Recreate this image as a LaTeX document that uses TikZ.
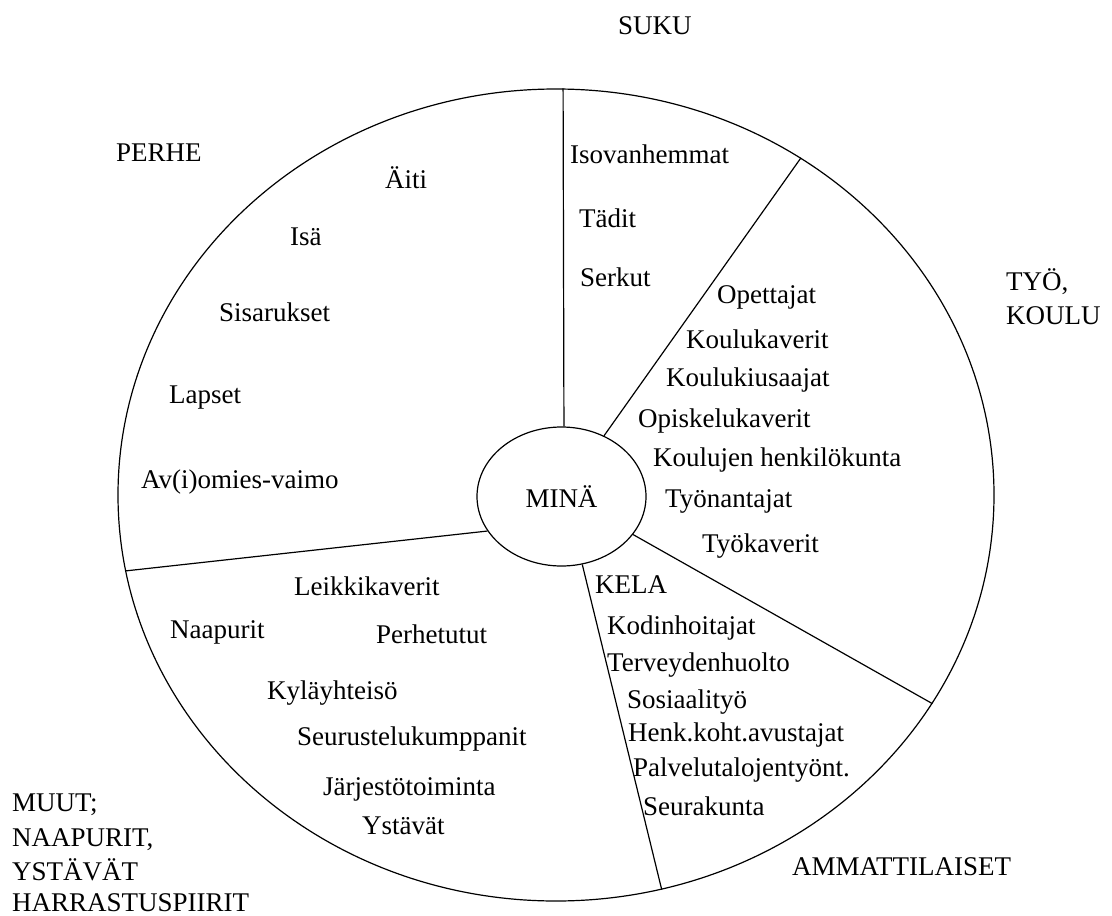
\documentclass[tikz,border=0pt]{standalone}
\usepackage{fontspec}
\setmainfont{Liberation Serif}
\usetikzlibrary{shapes.geometric}
\tikzset{
  lbl/.style={anchor=base west, inner sep=0pt, font=\fontsize{27}{31}\selectfont},
  ring/.style={draw, ellipse, line width=1.2pt, inner sep=0pt},
  divider/.style={draw, line width=1.2pt}
}
\begin{document}
\begin{tikzpicture}[x=1pt,y=-1pt]
\useasboundingbox (0,0) rectangle (1112,916);
\node[ring, minimum width=876pt, minimum height=812pt] (outer) at (556,495) {};
\node[ring, minimum width=169pt, minimum height=139pt, font=\fontsize{27}{31}\selectfont] (mina) at (561.5,496.5) {MINÄ};
% dividers
\path[divider] (mina.88.8) -- (outer.89);
\path[divider] (mina.55.1) -- (outer.54.4);
\path[divider] (mina.-28.9) -- (outer.-29.6);
\path[divider] (mina.-73.8) -- (outer.-75.2);
\path[divider] (mina.205.8) -- (outer.190.1);
% sector titles
\node[lbl] (suku) at (618,34) {SUKU};
\node[lbl] (perhe) at (116,161) {PERHE};
\node[lbl] (tyo) at (1006,290) {TYÖ,};
\node[lbl] (koulu) at (1006,324) {KOULU};
\node[lbl] (ammat) at (792,875) {AMMATTILAISET};
\node[lbl] (muut1) at (12,811) {MUUT;};
\node[lbl] (muut2) at (12,846) {NAAPURIT,};
\node[lbl] (muut3) at (12,880) {YSTÄVÄT};
\node[lbl] (muut4) at (12,911) {HARRASTUSPIIRIT};
% perhe
\node[lbl] (aiti) at (385,188) {Äiti};
\node[lbl] (isa) at (290,245) {Isä};
\node[lbl] (sisar) at (219,321) {Sisarukset};
\node[lbl] (lapset) at (169,403) {Lapset};
\node[lbl] (avio) at (141,488) {Av(i)omies-vaimo};
% suku
\node[lbl] (iso) at (570,163) {Isovanhemmat};
\node[lbl] (tadit) at (579,227) {Tädit};
\node[lbl] (serkut) at (580,286) {Serkut};
% tyo, koulu
\node[lbl] (opet) at (717,303) {Opettajat};
\node[lbl] (kkav) at (686,348) {Koulukaverit};
\node[lbl] (kkius) at (666,386) {Koulukiusaajat};
\node[lbl] (opis) at (638,427) {Opiskelukaverit};
\node[lbl] (khenk) at (653,466) {Koulujen henkilökunta};
\node[lbl] (tyon) at (665,507) {Työnantajat};
\node[lbl] (tyok) at (702,552) {Työkaverit};
% muut
\node[lbl] (leikki) at (294,595) {Leikkikaverit};
\node[lbl] (naap) at (170,638) {Naapurit};
\node[lbl] (perhet) at (376,643) {Perhetutut};
\node[lbl] (kyla) at (267,699) {Kyläyhteisö};
\node[lbl] (seur) at (297,745) {Seurustelukumppanit};
\node[lbl] (jarj) at (323,795) {Järjestötoiminta};
\node[lbl] (ystavat) at (362,834) {Ystävät};
% ammattilaiset
\node[lbl] (kela) at (595,593) {KELA};
\node[lbl] (kodin) at (607,634) {Kodinhoitajat};
\node[lbl] (terv) at (607,671) {Terveydenhuolto};
\node[lbl] (sos) at (627,708) {Sosiaalityö};
\node[lbl] (henk) at (628,741) {Henk.koht.avustajat};
\node[lbl] (palv) at (633,776) {Palvelutalojentyönt.};
\node[lbl] (seurak) at (643,815) {Seurakunta};
\end{tikzpicture}
\end{document}
